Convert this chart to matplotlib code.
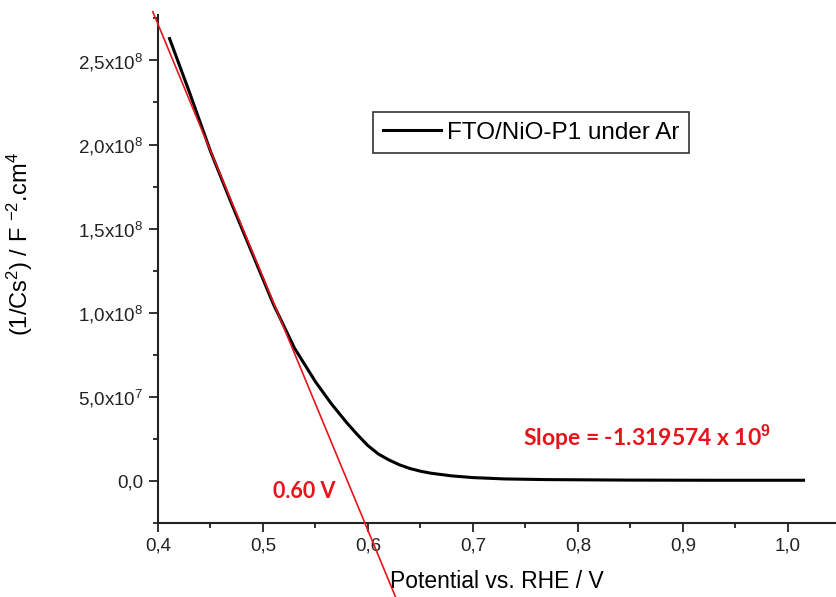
import numpy as np
import matplotlib
matplotlib.use("Agg")
import matplotlib.pyplot as plt
from matplotlib.ticker import FuncFormatter, MultipleLocator

plt.rcParams['font.family'] = ['Liberation Sans', 'DejaVu Sans']
plt.rcParams['mathtext.fontset'] = 'custom'
plt.rcParams['mathtext.rm'] = 'Liberation Sans'
plt.rcParams['mathtext.it'] = 'Liberation Sans:italic'
plt.rcParams['mathtext.bf'] = 'Liberation Sans:bold'

# Mott-Schottky data
potential = [0.411, 0.43, 0.45, 0.47, 0.49, 0.51, 0.53, 0.55, 0.565, 0.58, 0.59,
             0.60, 0.61, 0.62, 0.63, 0.64, 0.65, 0.66, 0.68, 0.70, 0.73, 0.77,
             0.85, 0.93, 1.015]
inv_cs2 = [2.63e8, 2.31e8, 1.96e8, 1.65e8, 1.35e8, 1.05e8, 7.9e7, 5.9e7, 4.6e7, 3.45e7, 2.75e7,
           2.1e7, 1.6e7, 1.25e7, 9.6e6, 7.4e6, 5.8e6, 4.6e6, 3.0e6, 2.0e6, 1.2e6, 0.8e6,
           0.5e6, 0.4e6, 0.4e6]

# linear fit line (end points as drawn)
fit_x = [0.395, 0.627]
fit_y = [2.79e8, -7.0e7]

series_label = "FTO/NiO-P1 under Ar"
slope_text = r"Slope = -1.319574 x 10$^{\mathbf{9}}$"
intercept_text = "0.60 V"


def sci_fmt(v, pos):
    if abs(v) < 1:
        return "0,0"
    e = int(np.floor(np.log10(abs(v))))
    m = v / 10**e
    return ("%.1f" % m).replace(".", ",") + r"x10$^{%d}$" % e


fig = plt.figure(figsize=(8.37, 5.97), dpi=100)
ax = fig.add_axes([158/837, 74/597, 677/837, 508/597])

ax.plot(potential, inv_cs2, color='black', lw=2.2, label=series_label, zorder=3)
ax.plot(fit_x, fit_y, color='#e8141c', lw=1.2, clip_on=False, zorder=4)

ax.set_xlim(0.4, 1.045)
ax.set_ylim(-2.5e7, 2.77e8)

ax.xaxis.set_major_locator(MultipleLocator(0.1))
ax.xaxis.set_minor_locator(MultipleLocator(0.05))
ax.yaxis.set_major_locator(MultipleLocator(5e7))
ax.yaxis.set_minor_locator(MultipleLocator(2.5e7))
ax.xaxis.set_major_formatter(FuncFormatter(lambda v, p: ("%.1f" % v).replace(".", ",")))
ax.yaxis.set_major_formatter(FuncFormatter(sci_fmt))

for s in ['top', 'right']:
    ax.spines[s].set_visible(False)
for s in ['left', 'bottom']:
    ax.spines[s].set_linewidth(1.5)
    ax.spines[s].set_color('#222222')

ax.tick_params(which='major', length=6.5, width=1.3, labelsize=13.5, pad=4, colors='#222222')
ax.tick_params(which='minor', length=3.5, width=1.3, colors='#222222')

ax.set_xlabel("Potential vs. RHE / V", fontsize=16.5)
ax.xaxis.set_label_coords(0.5, -0.092)
ax.set_ylabel(r"(1/Cs$^2$) / F $^{-2}$.cm$^4$", fontsize=17)
ax.yaxis.set_label_coords(-0.182, 0.55)

leg = ax.legend(loc='upper left', bbox_to_anchor=(373/837, 1 - 112/597),
                bbox_transform=fig.transFigure, fontsize=17.5, frameon=True,
                fancybox=False, edgecolor='#333333', framealpha=1,
                handlelength=2.4, borderaxespad=0, borderpad=0.4, handletextpad=0.25)
leg.get_frame().set_linewidth(1.2)

ax.text(0.866, 2.6e7, slope_text, color='#e8141c', fontsize=16.5, fontweight='bold',
        family='Lato', ha='center', va='center')
ax.text(0.539, -6.5e6, intercept_text, color='#e8141c', fontsize=15.5, fontweight='bold',
        family='Lato', ha='center', va='center')

fig.savefig("out.png", dpi=100)
